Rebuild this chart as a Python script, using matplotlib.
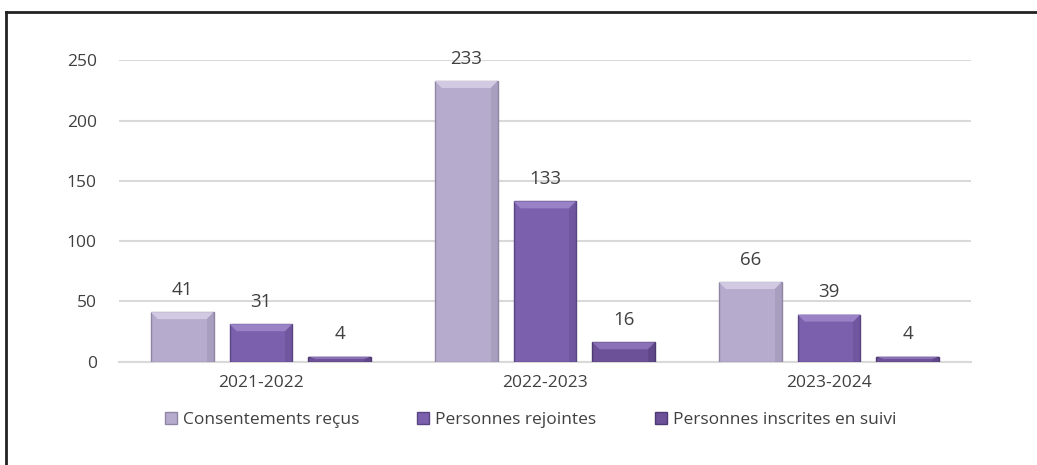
import numpy as np
import matplotlib.pyplot as plt
from matplotlib.patches import Polygon
from matplotlib.lines import Line2D

plt.rcParams['font.family'] = ['Open Sans', 'DejaVu Sans']

years = ["2021-2022", "2022-2023", "2023-2024"]
series = ["Consentements reçus", "Personnes rejointes", "Personnes inscrites en suivi"]
consentements = [41, 233, 66]
rejointes = [31, 133, 39]
inscrites = [4, 16, 4]

colors = ["#b6abcd", "#7b60ae", "#6c5199"]
tops = ["#d2c9e2", "#9a82c6", "#8a70b6"]
edges = ["#8f86a3", "#5a4583", "#4d3a70"]

fig = plt.figure(figsize=(10.37, 4.65), dpi=100)
ax = fig.add_axes([119/1037, 1 - 361.5/465, 852/1037, 301/465])

x = np.arange(len(years))
step = 0.2775
width = 0.221
ax.set_xlim(-0.5, 2.5)
ax.set_ylim(0, 250)

# bevel size in data units (about 7 px)
bx = 7 * 3 / 852
by = 7 * 250 / 301

for i, vals in enumerate([consentements, rejointes, inscrites]):
    pos = x + (i - 1) * step
    bars = ax.bar(pos, vals, width, color=colors[i], edgecolor=edges[i],
                  linewidth=1.0, zorder=3, label=series[i])
    for b, v in zip(bars, vals):
        x0, x1 = b.get_x(), b.get_x() + b.get_width()
        h = b.get_height()
        d = min(by, h / 2)
        ax.add_patch(Polygon([[x0, h], [x1, h], [x1 - bx, h - d], [x0 + bx, h - d]],
                             closed=True, facecolor=tops[i], edgecolor='none', zorder=4))
        ax.add_patch(Polygon([[x1, h], [x1, 0], [x1 - bx, 0], [x1 - bx, h - d]],
                             closed=True, facecolor=edges[i], alpha=0.35,
                             edgecolor='none', zorder=4))
        ax.annotate(str(v), (b.get_x() + b.get_width() / 2, h), xytext=(0, 16),
                    textcoords='offset points', ha='center', va='center',
                    fontsize=13.5, color='#404040', annotation_clip=False)

ax.set_yticks([0, 50, 100, 150, 200, 250])
ax.yaxis.grid(True, color='#d9d9d9', linewidth=1.5, zorder=0)
ax.set_axisbelow(True)
for s in ['left', 'right', 'top']:
    ax.spines[s].set_visible(False)
ax.spines['bottom'].set_color('#d9d9d9')
ax.spines['bottom'].set_linewidth(1.5)
ax.tick_params(axis='both', length=0, labelsize=12.5, colors='#404040')
ax.tick_params(axis='y', pad=16)
ax.tick_params(axis='x', pad=10)
ax.set_xticks(x)
ax.set_xticklabels(years)

handles = [Line2D([], [], marker='s', linestyle='none', markersize=9,
                  markerfacecolor=c, markeredgecolor=e)
           for c, e in zip(colors, edges)]
fig.legend(handles, series, loc='center', bbox_to_anchor=(530/1037, 1 - 420/465),
           ncol=3, frameon=False, fontsize=12.5, handlelength=0.8, handletextpad=0.3,
           columnspacing=3.3, labelcolor='#404040')

# outer frame (top and left only)
fig.add_artist(Line2D([6/1037, 1], [1 - 12/465, 1 - 12/465], color='#222222', linewidth=2))
fig.add_artist(Line2D([6/1037, 6/1037], [0, 1 - 12/465], color='#222222', linewidth=2))

fig.savefig('out.png', dpi=100)
